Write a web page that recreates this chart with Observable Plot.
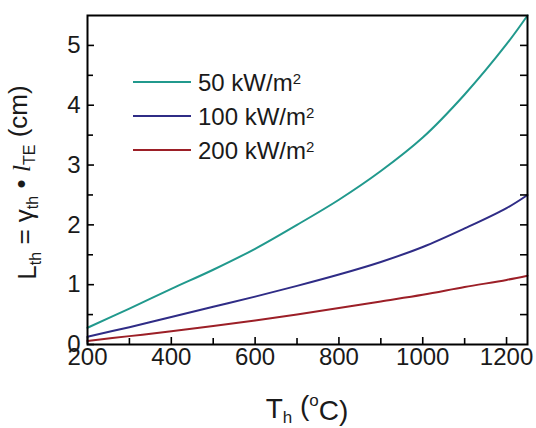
<!DOCTYPE html>
<html><head><meta charset="utf-8">
<script src="https://cdn.jsdelivr.net/npm/d3@7"></script>
<script src="https://cdn.jsdelivr.net/npm/@observablehq/plot@0.6"></script>
<style>body{margin:0;background:#fff;} svg{display:block;}</style>
</head><body><div id="chart"></div>
<script>
// ---- data ----
const temperature = [200, 300, 400, 500, 600, 700, 800, 900, 1000, 1100, 1200, 1250];
const flux50  = [0.28, 0.60, 0.93, 1.25, 1.60, 2.00, 2.42, 2.90, 3.46, 4.18, 5.02, 5.50];
const flux100 = [0.13, 0.29, 0.46, 0.63, 0.80, 0.98, 1.17, 1.38, 1.63, 1.94, 2.28, 2.50];
const flux200 = [0.06, 0.14, 0.22, 0.31, 0.40, 0.50, 0.61, 0.72, 0.83, 0.96, 1.08, 1.15];
const seriesNames = ["50 kW/m", "100 kW/m", "200 kW/m"];
const seriesColors = ["#21998d", "#2f2c86", "#9c1f27"];
const xTicks = [200, 400, 600, 800, 1000, 1200];
const xMinorTicks = [300, 500, 700, 900, 1100];
const yTicks = [0, 1, 2, 3, 4, 5];
const yMinorTicks = [0.5, 1.5, 2.5, 3.5, 4.5];
const yRightTicks = [0.5, 1, 1.5, 2, 2.5, 3, 3.5, 4, 4.5, 5];

// ---- layout ----
const W = 536, H = 428, mt = 15, mr = 9, mb = 84, ml = 87;
const innerW = W - ml - mr, innerH = H - mt - mb;
const font = "'Liberation Sans', Arial, Helvetica, sans-serif";

const rows = [];
[flux50, flux100, flux200].forEach((arr, i) =>
  arr.forEach((v, j) => rows.push({T: temperature[j], L: v, s: seriesNames[i]})));

const chart = Plot.plot({
  width: W, height: H,
  marginTop: mt, marginRight: mr, marginBottom: mb, marginLeft: ml,
  style: {fontFamily: font, fontSize: "24px", color: "#1a1a1a", background: "white"},
  x: {domain: [200, 1250], label: null},
  y: {domain: [0, 5.5], label: null},
  color: {domain: seriesNames, range: seriesColors},
  marks: [
    Plot.line(rows, {x: "T", y: "L", stroke: "s", strokeWidth: 2, curve: "catmull-rom"}),
    Plot.tickX(xTicks, {x: d => d, insetTop: innerH - 7, stroke: "black", strokeWidth: 1.6}),
    Plot.tickX(xMinorTicks, {x: d => d, insetTop: innerH - 6, stroke: "black", strokeWidth: 1.6}),
    Plot.tickY(yTicks, {y: d => d, insetRight: innerW - 7, stroke: "black", strokeWidth: 1.6}),
    Plot.tickY(yMinorTicks, {y: d => d, insetRight: innerW - 6, stroke: "black", strokeWidth: 1.6}),
    Plot.tickY(yRightTicks, {y: d => d, insetLeft: innerW - 7, stroke: "black", strokeWidth: 1.6}),
    Plot.axisX(xTicks, {tickSize: 0, tickPadding: 3, fontSize: 24, label: null, tickFormat: d => String(d)}),
    Plot.axisY(yTicks, {tickSize: 0, tickPadding: 7, fontSize: 24, label: null, tickFormat: d => String(d)}),
    Plot.frame({stroke: "black", strokeWidth: 2})
  ]
});
document.getElementById("chart").appendChild(chart);

const svg = d3.select(chart);

// x axis label: T_h (°C)
const xl = svg.append("text")
  .attr("x", ml + innerW / 2).attr("y", 418)
  .attr("text-anchor", "middle")
  .style("font-family", font).style("font-size", "28px").attr("fill", "#1a1a1a");
xl.append("tspan").text("T");
xl.append("tspan").attr("dy", "0.3em").style("font-size", "17px").text("h");
xl.append("tspan").attr("dy", "-0.3em").text(" (");
xl.append("tspan").attr("dy", "-0.5em").style("font-size", "17px").text("o");
xl.append("tspan").attr("dy", "0.5em").text("C)");

// y axis label: L_th = γ_th • l_TE (cm)
const yl = svg.append("text")
  .attr("transform", `translate(36,${mt + innerH / 2 + 3}) rotate(-90)`)
  .attr("text-anchor", "middle")
  .style("font-family", font).style("font-size", "26px").attr("fill", "#1a1a1a");
yl.append("tspan").text("L");
yl.append("tspan").attr("dy", "0.3em").style("font-size", "16px").text("th");
yl.append("tspan").attr("dy", "-0.3em").text(" = γ");
yl.append("tspan").attr("dy", "0.3em").style("font-size", "16px").text("th");
yl.append("tspan").attr("dy", "-0.3em").text(" • ");
yl.append("tspan").style("font-style", "italic").style("font-family", "'Liberation Serif', serif").text("l");
yl.append("tspan").attr("dy", "0.3em").style("font-size", "16px").text("TE");
yl.append("tspan").attr("dy", "-0.3em").text(" (cm)");

// legend
const legendY = [82, 116, 150];
seriesNames.forEach((name, i) => {
  svg.append("line")
    .attr("x1", 133).attr("x2", 191).attr("y1", legendY[i]).attr("y2", legendY[i])
    .attr("stroke", seriesColors[i]).attr("stroke-width", 2);
  const t = svg.append("text")
    .attr("x", 198).attr("y", legendY[i] + 9)
    .attr("text-anchor", "start")
    .style("font-family", font).style("font-size", "24px").attr("fill", "#1a1a1a");
  t.append("tspan").text(name);
  t.append("tspan").attr("dy", "-0.45em").style("font-size", "15px").text("2");
});
</script>
</body></html>
